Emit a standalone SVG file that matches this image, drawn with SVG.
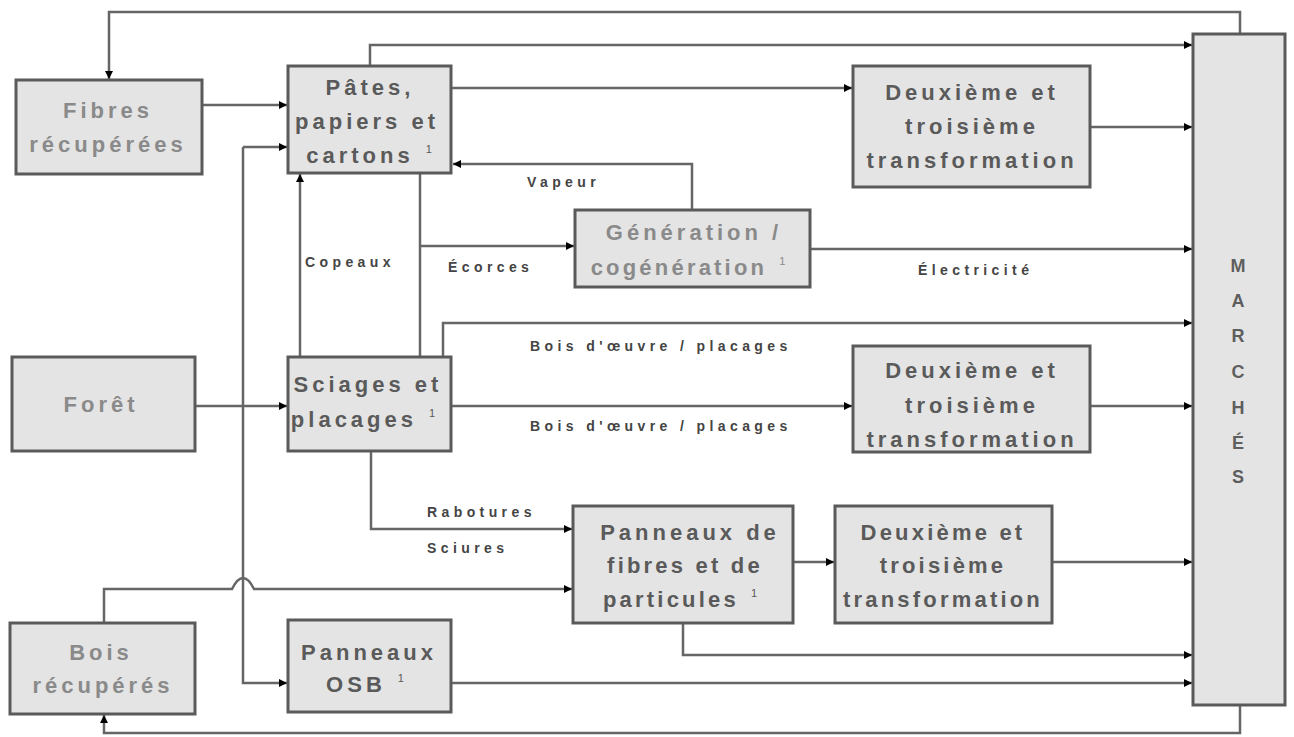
<svg xmlns="http://www.w3.org/2000/svg" width="1294" height="737" viewBox="0 0 1294 737">
<defs>
<marker id="ah" markerUnits="userSpaceOnUse" markerWidth="10" markerHeight="10" refX="8" refY="4" orient="auto">
<path d="M0,0 L8,4 L0,8 z" fill="#000"/>
</marker>
<style>
.box{fill:#e4e4e4;stroke:#5a5a5a;stroke-width:3}
.t{font-family:"Liberation Sans",Arial,sans-serif;font-weight:bold;font-size:22px;letter-spacing:4px;text-anchor:middle;fill:#5a5a5a}
.n{letter-spacing:3.2px}
.lt{fill:#8a8a8a}
.sup{font-size:11px;letter-spacing:0;font-weight:normal}
.lbl{font-family:"Liberation Sans",Arial,sans-serif;font-weight:bold;font-size:14px;letter-spacing:4.4px;fill:#444}
.m{font-family:"Liberation Sans",Arial,sans-serif;font-weight:bold;font-size:18px;text-anchor:middle;fill:#5e5e5e}
.c{fill:none;stroke:#666;stroke-width:2.5}
.a{marker-end:url(#ah)}
</style>
</defs>
<rect width="1294" height="737" fill="#fff"/>
<g id="connectors">
<path class="c a" d="M1240,34 V12 H109 V79"/>
<path class="c a" d="M370,66 V45 H1192"/>
<path class="c a" d="M202,105 H287"/>
<path class="c a" d="M452,88 H852"/>
<path class="c a" d="M1090,127 H1192"/>
<path class="c a" d="M692,210 V164 H453"/>
<path class="c a" d="M300,357 V174"/>
<path class="c" d="M420,173 V357"/>
<path class="c a" d="M420,246 H574"/>
<path class="c a" d="M810,249 H1192"/>
<path class="c a" d="M443,357 V323 H1192"/>
<path class="c a" d="M195,406 H287"/>
<path class="c a" d="M451,406 H852"/>
<path class="c a" d="M1090,406 H1192"/>
<path class="c a" d="M371,451 V529 H572"/>
<path class="c a" d="M104,623 V589 H232 Q243,567 254,589 H572"/>
<path class="c a" d="M243,147 H287"/>
<path class="c a" d="M243,147 V683 H287"/>
<path class="c a" d="M793,562 H834"/>
<path class="c a" d="M1052,562 H1192"/>
<path class="c a" d="M683,623 V655 H1192"/>
<path class="c a" d="M451,683 H1192"/>
<path class="c a" d="M1240,705 V733 H104 V715"/>
</g>
<g id="fibres">
<rect class="box" x="16" y="80" width="186" height="94"/>
<text class="t lt" x="108" y="118">Fibres</text>
<text class="t lt" x="108" y="152">récupérées</text>
</g>
<g id="pates">
<rect class="box" x="288" y="66" width="163" height="107"/>
<text class="t" x="370" y="95">Pâtes,</text>
<text class="t" x="367" y="129">papiers et</text>
<text class="t" x="369" y="163">cartons<tspan class="sup" dx="12" dy="-10">1</tspan></text>
</g>
<g id="deux1">
<rect class="box" x="853" y="66" width="237" height="121"/>
<text class="t" x="972" y="100">Deuxième et</text>
<text class="t" x="972" y="134">troisième</text>
<text class="t" x="972" y="168">transformation</text>
</g>
<g id="generation">
<rect class="box" x="575" y="210" width="235" height="77"/>
<text class="t lt" x="694" y="240">Génération /</text>
<text class="t lt n" x="688" y="275">cogénération<tspan class="sup" dx="12" dy="-10">1</tspan></text>
</g>
<g id="foret">
<rect class="box" x="12" y="357" width="183" height="94"/>
<text class="t lt" x="101" y="412">Forêt</text>
</g>
<g id="sciages">
<rect class="box" x="288" y="357" width="163" height="94"/>
<text class="t" x="368" y="392">Sciages et</text>
<text class="t" x="363" y="427">placages<tspan class="sup" dx="12" dy="-10">1</tspan></text>
</g>
<g id="deux2">
<rect class="box" x="853" y="346" width="237" height="106"/>
<text class="t" x="972" y="378">Deuxième et</text>
<text class="t" x="972" y="413">troisième</text>
<text class="t" x="972" y="447">transformation</text>
</g>
<g id="panneaux-fibres">
<rect class="box" x="573" y="506" width="220" height="117"/>
<text class="t" x="690" y="540">Panneaux de</text>
<text class="t n" x="685" y="573">fibres et de</text>
<text class="t n" x="680" y="607">particules<tspan class="sup" dx="12" dy="-10">1</tspan></text>
</g>
<g id="deux3">
<rect class="box" x="835" y="506" width="217" height="117"/>
<text class="t n" x="943" y="540">Deuxième et</text>
<text class="t n" x="943" y="573">troisième</text>
<text class="t n" x="943" y="607">transformation</text>
</g>
<g id="bois-recuperes">
<rect class="box" x="10" y="623" width="185" height="91"/>
<text class="t lt" x="101" y="660">Bois</text>
<text class="t lt" x="103" y="693">récupérés</text>
</g>
<g id="osb">
<rect class="box" x="288" y="620" width="163" height="92"/>
<text class="t" x="369" y="660">Panneaux</text>
<text class="t" x="365" y="692">OSB<tspan class="sup" dx="12" dy="-10">1</tspan></text>
</g>
<g id="marches">
<rect class="box" x="1193" y="34" width="92" height="671"/>
<text class="m" x="1238" y="272">M</text>
<text class="m" x="1238" y="307">A</text>
<text class="m" x="1238" y="342">R</text>
<text class="m" x="1238" y="378">C</text>
<text class="m" x="1238" y="414">H</text>
<text class="m" x="1238" y="449">É</text>
<text class="m" x="1238" y="483">S</text>
</g>
<g id="labels">
<text class="lbl" x="527" y="187">Vapeur</text>
<text class="lbl" x="305" y="267">Copeaux</text>
<text class="lbl" x="448" y="272">Écorces</text>
<text class="lbl" x="918" y="275">Électricité</text>
<text class="lbl" x="530" y="351">Bois d'œuvre / placages</text>
<text class="lbl" x="530" y="431">Bois d'œuvre / placages</text>
<text class="lbl" x="427" y="517">Rabotures</text>
<text class="lbl" x="427" y="553">Sciures</text>
</g>
</svg>
